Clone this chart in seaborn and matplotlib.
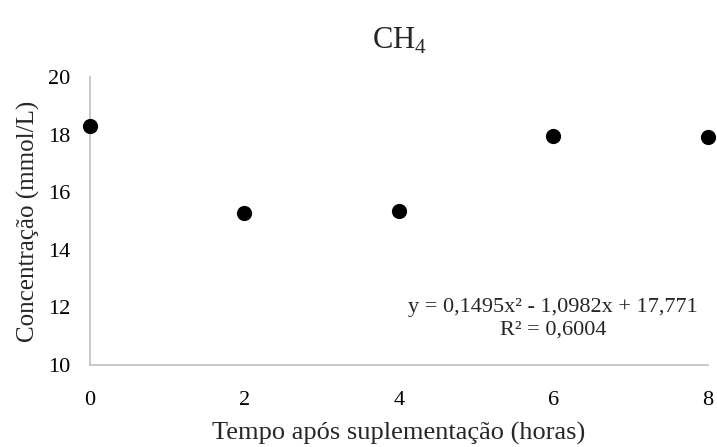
import matplotlib
matplotlib.use("Agg")
import matplotlib.pyplot as plt
import seaborn as sns
import pandas as pd

# data
horas = [0, 2, 4, 6, 8]
ch4 = [18.30, 15.29, 15.36, 17.96, 17.93]
y_ticks = [10, 12, 14, 16, 18, 20]
x_ticks = [0, 2, 4, 6, 8]
equacao = "y = 0,1495x² - 1,0982x + 17,771"
r2 = "R² = 0,6004"

df = pd.DataFrame({"horas": horas, "ch4": ch4})

sns.set_theme(style="white")
plt.rcParams["font.family"] = ["Liberation Serif", "DejaVu Serif"]
plt.rcParams["mathtext.fontset"] = "custom"
plt.rcParams["mathtext.rm"] = "Liberation Serif"

fig = plt.figure(figsize=(7.17, 4.47), dpi=100)
ax = fig.add_axes([0.1255, 0.1834, 0.8619, 0.6443])

sns.scatterplot(data=df, x="horas", y="ch4", ax=ax, color="black",
                s=120, edgecolor="black", linewidth=0, clip_on=False, zorder=3)

ax.set_xlim(0, 8)
ax.set_ylim(10, 20)
ax.set_xticks(x_ticks)
ax.set_yticks(y_ticks)
ax.tick_params(axis="both", length=0, labelsize=16, colors="black")
ax.tick_params(axis="x", pad=19)
ax.tick_params(axis="y", pad=14)

for side in ["top", "right"]:
    ax.spines[side].set_visible(False)
for side in ["left", "bottom"]:
    ax.spines[side].set_color("#BFBFBF")
    ax.spines[side].set_linewidth(1.2)

ax.set_xlabel("Tempo após suplementação (horas)", fontsize=19, labelpad=8)
ax.set_ylabel("Concentração (mmol/L)", fontsize=18, labelpad=6)
ax.set_title(r"CH$_\mathregular{4}$", fontsize=22, pad=20)

ax.text(0.984, 0.16, equacao + "\n" + r2, transform=ax.transAxes,
        ha="right", va="center", multialignment="center", fontsize=16,
        linespacing=1.3)

fig.savefig("out.png", dpi=100)
